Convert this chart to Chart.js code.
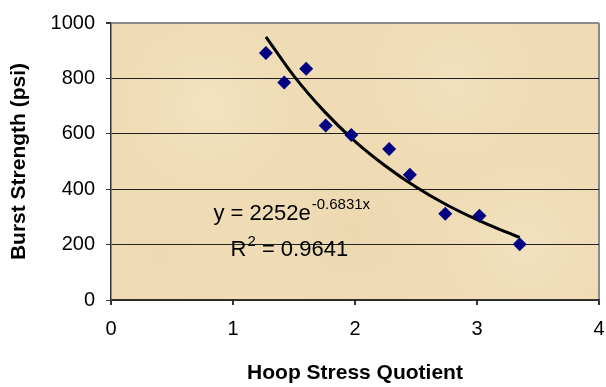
<!DOCTYPE html>
<html>
<head>
<meta charset="utf-8">
<script src="https://cdn.jsdelivr.net/npm/chart.js@4.4.1/dist/chart.umd.min.js"></script>
<style>
    html, body { margin: 0; padding: 0; background: #ffffff; }
    #wrap { width: 606px; height: 387px; }
</style>
</head>
<body>
<div id="wrap"><canvas id="grafica"></canvas></div>
<script>
// datos medidos
var hoopX = [1.27, 1.42, 1.60, 1.76, 1.97, 2.28, 2.45, 2.74, 3.02, 3.35];
var burstY = [892, 785, 835, 630, 596, 545, 452, 311, 304, 201];
// linea de tendencia (exponencial)
var trendX = [1.27, 1.5, 1.75, 2.0, 2.25, 2.5, 2.75, 3.0, 3.2, 3.35];
var trendY = [950, 808, 680, 573, 484, 408, 344, 290, 252, 226];
var xTicks = [0, 1, 2, 3, 4];
var yTicks = [0, 200, 400, 600, 800, 1000];
var ecuacion = 'y = 2252e';
var exponente = '-0.6831x';
var r2Texto = ' = 0.9641';

var puntos = [];
for (let i = 0; i < hoopX.length; i++) {
    puntos.push({x: hoopX[i], y: burstY[i]});
}
var tendencia = [];
for (let i = 0; i < trendX.length; i++) {
    tendencia.push({x: trendX[i], y: trendY[i]});
}

var fondo = {
    id: 'fondo',
    beforeDraw: function (chart) {
        let a = chart.chartArea;
        let c = chart.ctx;
        c.save();
        c.fillStyle = '#efdcb5';
        c.fillRect(a.left, a.top, a.right - a.left, a.bottom - a.top);
        let manchas = [[0.2, 0.3, 'rgba(245,231,200,0.7)'], [0.7, 0.2, 'rgba(244,229,198,0.6)'], [0.5, 0.75, 'rgba(232,213,170,0.5)'], [0.85, 0.8, 'rgba(245,230,200,0.6)'], [0.1, 0.85, 'rgba(236,217,176,0.5)']];
        for (let m of manchas) {
            let cx = a.left + m[0] * (a.right - a.left);
            let cy = a.top + m[1] * (a.bottom - a.top);
            let g = c.createRadialGradient(cx, cy, 0, cx, cy, 110);
            g.addColorStop(0, m[2]);
            g.addColorStop(1, 'rgba(239,220,181,0)');
            c.fillStyle = g;
            c.fillRect(a.left, a.top, a.right - a.left, a.bottom - a.top);
        }
        c.restore();
    }
};

var textoEcuacion = {
    id: 'textoEcuacion',
    afterDatasetsDraw: function (chart) {
        let c = chart.ctx;
        let sx = chart.scales.x;
        let sy = chart.scales.y;
        c.save();
        c.fillStyle = '#000000';
        c.textBaseline = 'alphabetic';
        c.textAlign = 'left';
        let x1 = sx.getPixelForValue(0.84);
        let y1 = sy.getPixelForValue(288);
        c.font = '22px "Liberation Sans", Arial, sans-serif';
        c.fillText(ecuacion, x1, y1);
        let w1 = c.measureText(ecuacion).width;
        c.font = '15px "Liberation Sans", Arial, sans-serif';
        c.fillText(exponente, x1 + w1 + 1, y1 - 11);

        let x2 = sx.getPixelForValue(0.98);
        let y2 = sy.getPixelForValue(160);
        c.font = '22px "Liberation Sans", Arial, sans-serif';
        c.fillText('R', x2, y2);
        let wr = c.measureText('R').width;
        c.font = '15px "Liberation Sans", Arial, sans-serif';
        c.fillText('2', x2 + wr + 1, y2 - 10);
        let w2 = c.measureText('2').width;
        c.font = '22px "Liberation Sans", Arial, sans-serif';
        c.fillText(r2Texto, x2 + wr + w2 + 1, y2);
        c.restore();
    }
};

var ctx = document.getElementById('grafica');
var grafica = new Chart(ctx, {
    type: 'scatter',
    data: {
        datasets: [{
            label: 'Burst Strength',
            data: puntos,
            pointStyle: 'rectRot',
            pointRadius: 7,
            pointBackgroundColor: '#000080',
            pointBorderColor: '#000080',
            pointBorderWidth: 0,
            showLine: false,
            order: 1
        }, {
            label: 'Tendencia',
            data: tendencia,
            showLine: true,
            borderColor: '#000000',
            borderWidth: 3,
            pointRadius: 0,
            cubicInterpolationMode: 'monotone',
            fill: false,
            order: 2
        }]
    },
    plugins: [fondo, textoEcuacion],
    options: {
        responsive: true,
        maintainAspectRatio: false,
        animation: false,
        layout: { padding: { top: 18, right: 0, left: 0, bottom: 0 } },
        plugins: {
            legend: { display: false },
            tooltip: { enabled: false }
        },
        scales: {
            x: {
                type: 'linear',
                min: 0,
                max: 4,
                afterBuildTicks: function (axis) {
                    axis.ticks = xTicks.map(function (v) { return {value: v}; });
                },
                afterFit: function (axis) {
                    axis.height = 87;
                    axis.paddingRight = 6;
                    axis.paddingLeft = 0;
                },
                border: { color: '#333333', width: 1.5 },
                grid: {
                    drawOnChartArea: true,
                    drawTicks: true,
                    tickLength: 5,
                    tickColor: '#333333',
                    color: function (c) { return c.tick && c.tick.value === 4 ? '#8a8a8a' : 'rgba(0,0,0,0)'; },
                    lineWidth: 2
                },
                ticks: {
                    color: '#000000',
                    padding: 12,
                    maxRotation: 0,
                    callback: function (v) { return String(v); },
                    font: { family: '"Liberation Sans", Arial, sans-serif', size: 20 }
                },
                title: {
                    display: true,
                    text: 'Hoop Stress Quotient',
                    color: '#000000',
                    padding: { top: 0, bottom: 1 },
                    font: { family: '"Liberation Sans", Arial, sans-serif', size: 21, weight: 'bold' }
                }
            },
            y: {
                type: 'linear',
                min: 0,
                max: 1000,
                afterBuildTicks: function (axis) {
                    axis.ticks = yTicks.map(function (v) { return {value: v}; });
                },
                afterFit: function (axis) { axis.width = 111; },
                border: { color: '#333333', width: 1.5 },
                grid: {
                    drawTicks: true,
                    tickLength: 5,
                    tickColor: '#333333',
                    color: function (c) {
                        if (c.tick && c.tick.value === 1000) return '#8a8a8a';
                        return '#222222';
                    },
                    lineWidth: function (c) { return c.tick && c.tick.value === 1000 ? 2 : 1; }
                },
                ticks: {
                    color: '#000000',
                    padding: 11,
                    callback: function (v) { return String(v); },
                    font: { family: '"Liberation Sans", Arial, sans-serif', size: 20 }
                },
                title: {
                    display: true,
                    text: 'Burst Strength (psi)',
                    color: '#000000',
                    padding: { top: 7, bottom: 0 },
                    font: { family: '"Liberation Sans", Arial, sans-serif', size: 21, weight: 'bold' }
                }
            }
        }
    }
});
</script>
</body>
</html>
